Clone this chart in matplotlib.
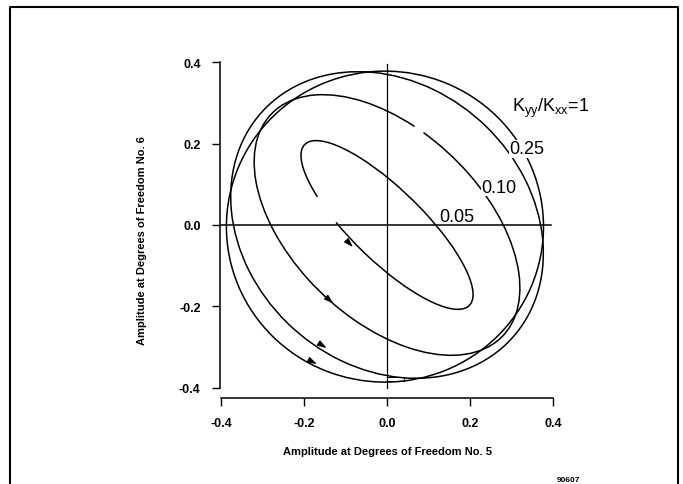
import numpy as np
import matplotlib
matplotlib.use('Agg')
import matplotlib.pyplot as plt
from matplotlib.patches import Arc, Rectangle
from matplotlib.lines import Line2D
from matplotlib.ticker import FormatStrFormatter

plt.rcParams['font.family'] = ['Liberation Sans', 'DejaVu Sans']
plt.rcParams['mathtext.fontset'] = 'custom'
plt.rcParams['mathtext.rm'] = 'Liberation Sans'
plt.rcParams['axes.unicode_minus'] = False

# orbit of each stiffness ratio: centre, width, height, tilt, drawn arc (deg)
ratios = ['1', '0.25', '0.10', '0.05']
centres = [(-0.005, -0.004), (0.0, 0.0), (0.0, 0.0), (0.0, 0.0)]
widths = [0.764, 0.82, 0.78, 0.56]
heights = [0.764, 0.68, 0.46, 0.174]
tilts = [0.0, -45.0, -45.0, -45.0]
arc_spans = [[(0, 360)], [(0, 360)], [(119.7, 473.8)], [(222, 562.6)]]

# direction arrows sitting on each orbit
arrow_pts = [(-0.178, -0.337), (-0.154, -0.297), (-0.137, -0.186), (-0.089, -0.047)]

# ratio labels; the ones lying over a curve get blanked behind
label_texts = [r'$\mathregular{K_{yy}/K_{xx}}$=1', '0.25', '0.10', '0.05']
label_pos = [(0.395, 0.29), (0.337, 0.187), (0.27, 0.093), (0.169, 0.022)]
label_blank = [False, True, True, False]

ticks = [-0.4, -0.2, 0.0, 0.2, 0.4]
start_box = (0.0, -0.383, 0.04, 0.009)


def tangent(c, w, h, ang, x, y):
    th = np.deg2rad(ang)
    dx, dy = x - c[0], y - c[1]
    u = dx * np.cos(th) + dy * np.sin(th)
    v = -dx * np.sin(th) + dy * np.cos(th)
    t = np.arctan2(v / (h / 2), u / (w / 2))
    tu, tv = -(w / 2) * np.sin(t), (h / 2) * np.cos(t)
    tx = tu * np.cos(th) - tv * np.sin(th)
    ty = tu * np.sin(th) + tv * np.cos(th)
    n = np.hypot(tx, ty)
    return tx / n, ty / n


fig = plt.figure(figsize=(6.83, 4.85), dpi=100)
ax = fig.add_axes([0.2932, 0.1564, 0.5469, 0.7553])
ax.set_xlim(-0.45, 0.45)
ax.set_ylim(-0.45, 0.45)

# zero lines
ax.plot([-0.4, 0.395], [0, 0], color='k', lw=1.1)
ax.plot([0, 0], [-0.4, 0.395], color='k', lw=0.9)

for c, w, h, a, spans in zip(centres, widths, heights, tilts, arc_spans):
    for t1, t2 in spans:
        ax.add_patch(Arc(c, w, h, angle=a, theta1=t1, theta2=t2,
                         color='k', lw=1.1))

for (x, y), c, w, h, a in zip(arrow_pts, centres, widths, heights, tilts):
    tx, ty = tangent(c, w, h, a, x, y)
    ax.annotate('', xy=(x + 0.01 * tx, y + 0.01 * ty),
                xytext=(x - 0.01 * tx, y - 0.01 * ty),
                arrowprops=dict(arrowstyle='-|>,head_length=0.55,head_width=0.18',
                                color='k', lw=0.8, shrinkA=0, shrinkB=0))

ax.add_patch(Rectangle(start_box[:2], start_box[2], start_box[3],
                       fill=False, ec='k', lw=0.7))

for txt, (x, y), blank in zip(label_texts, label_pos, label_blank):
    box = dict(fc='white', ec='none', pad=0.5) if blank else None
    ax.text(x, y, txt, fontsize=13, ha='center', va='center', bbox=box)

for s in ['top', 'right']:
    ax.spines[s].set_visible(False)
ax.spines['left'].set_position(('data', -0.402))
ax.spines['bottom'].set_position(('data', -0.425))
ax.spines['left'].set_bounds(-0.4, 0.4)
ax.spines['bottom'].set_bounds(-0.4, 0.4)
for s in ['left', 'bottom']:
    ax.spines[s].set_linewidth(1.1)

ax.set_xticks(ticks)
ax.set_yticks(ticks)
ax.xaxis.set_major_formatter(FormatStrFormatter('%.1f'))
ax.yaxis.set_major_formatter(FormatStrFormatter('%.1f'))
ax.tick_params(direction='out', length=6, width=1.0, labelsize=9, pad=8)
for lab in ax.get_xticklabels() + ax.get_yticklabels():
    lab.set_fontweight('bold')

ax.set_xlabel('Amplitude at Degrees of Freedom No. 5', fontsize=8, fontweight='bold')
ax.set_ylabel('Amplitude at Degrees of Freedom No. 6', fontsize=8, fontweight='bold')
ax.xaxis.set_label_coords(0.5, -0.103)
ax.yaxis.set_label_coords(-0.1426, 0.459)

fig.text(0.8316, 0.0103, '90607', fontsize=6, fontweight='bold',
         ha='center', va='center')

# outer frame (open at the bottom)
fx0, fx1, fy1 = 10 / 683, 678 / 683, 1 - 8 / 485
fig.add_artist(Line2D([fx0, fx0, fx1, fx1], [0, fy1, fy1, 0],
                      transform=fig.transFigure, color='k', lw=1.5))

fig.savefig('out.png', dpi=100)
